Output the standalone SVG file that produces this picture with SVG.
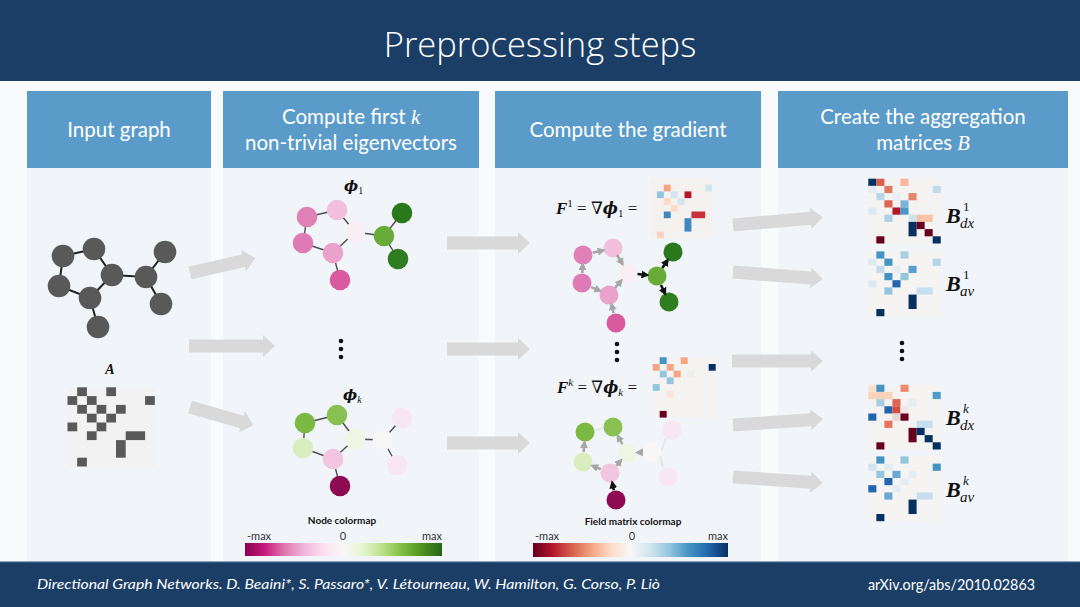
<svg xmlns="http://www.w3.org/2000/svg" width="1080" height="607" viewBox="0 0 1080 607">
<defs>
<style>
.hdr{fill:#5b9bc9}
.hdrt{font-family:Lato,"Open Sans",sans-serif;font-size:20.5px;fill:#ffffff;text-anchor:middle}
.panel{fill:#f1f5f9}
.flow{fill:#d9d9d9}
.gn{fill:#595959}
.ge{stroke:#222;stroke-width:2;fill:none}
.pe{stroke:#4d4d4d;stroke-width:1.4;fill:none}
.math{font-family:"Liberation Serif","DejaVu Serif",serif;fill:#111}
.phi{font-family:"DejaVu Serif",serif;font-weight:bold;font-style:italic}
.bi{font-weight:bold;font-style:italic}
.it{font-style:italic}
.cb{font-family:Lato,"Open Sans",sans-serif;font-size:10px;font-weight:bold;fill:#111;text-anchor:middle}
.tick{font-family:Lato,"Open Sans",sans-serif;font-size:11px;fill:#333}
.ga{stroke:#a6a6a6;stroke-width:2.6;fill:none;marker-end:url(#mg)}
.ka{stroke:#111;stroke-width:2.6;fill:none;marker-end:url(#mk)}
.fa{stroke:#e6e6e6;stroke-width:2;fill:none}
.dot{fill:#111}
.foot{font-family:Lato,"Open Sans",sans-serif;fill:#ffffff}
</style>
<marker id="mg" viewBox="0 0 10 10" refX="7" refY="5" markerUnits="userSpaceOnUse" markerWidth="8" markerHeight="8" orient="auto"><path d="M0,0 L10,5 L0,10 z" fill="#a6a6a6"/></marker>
<marker id="mk" viewBox="0 0 10 10" refX="7" refY="5" markerUnits="userSpaceOnUse" markerWidth="8" markerHeight="8" orient="auto"><path d="M0,0 L10,5 L0,10 z" fill="#111"/></marker>
<linearGradient id="piyg" x1="0" y1="0" x2="1" y2="0">
<stop offset="0" stop-color="#8e0152"/><stop offset="0.1" stop-color="#c51b7d"/><stop offset="0.2" stop-color="#de77ae"/><stop offset="0.3" stop-color="#f1b6da"/><stop offset="0.4" stop-color="#fde0ef"/><stop offset="0.5" stop-color="#f7f7f7"/><stop offset="0.6" stop-color="#e6f5d0"/><stop offset="0.7" stop-color="#b8e186"/><stop offset="0.8" stop-color="#7fbc41"/><stop offset="0.9" stop-color="#4d9221"/><stop offset="1" stop-color="#276419"/>
</linearGradient>
<linearGradient id="rdbu" x1="0" y1="0" x2="1" y2="0">
<stop offset="0" stop-color="#67001f"/><stop offset="0.1" stop-color="#b2182b"/><stop offset="0.2" stop-color="#d6604d"/><stop offset="0.3" stop-color="#f4a582"/><stop offset="0.4" stop-color="#fddbc7"/><stop offset="0.5" stop-color="#f7f7f7"/><stop offset="0.6" stop-color="#d1e5f0"/><stop offset="0.7" stop-color="#92c5de"/><stop offset="0.8" stop-color="#4393c3"/><stop offset="0.9" stop-color="#2166ac"/><stop offset="1" stop-color="#053061"/>
</linearGradient>
</defs>

<!-- background -->
<rect x="0" y="0" width="1080" height="607" fill="#f8fafc"/>
<rect x="0" y="0" width="1080" height="81" fill="#1b3e66"/>
<text x="540" y="57" text-anchor="middle" font-family="'Open Sans',Lato,sans-serif" font-weight="300" font-size="34.5" fill="#ffffff">Preprocessing steps</text>
<rect x="0" y="562" width="1080" height="45" fill="#1b3e66"/>
<rect x="0" y="561" width="1080" height="1.2" fill="#8aa3bf"/>

<!-- column panels -->
<rect class="panel" x="27" y="91" width="184" height="470"/>
<rect class="panel" x="223" y="91" width="256" height="470"/>
<rect class="panel" x="495" y="91" width="266" height="470"/>
<rect class="panel" x="778" y="91" width="290" height="470"/>

<!-- headers -->
<g id="hdr1"><rect class="hdr" x="27" y="91" width="184" height="77"/><text class="hdrt" x="119" y="137">Input graph</text></g>
<g id="hdr2"><rect class="hdr" x="223" y="91" width="256" height="77"/><text class="hdrt" x="351" y="124">Compute first <tspan font-family="'Liberation Serif',serif" font-style="italic">k</tspan></text><text class="hdrt" x="351" y="150">non-trivial eigenvectors</text></g>
<g id="hdr3"><rect class="hdr" x="495" y="91" width="266" height="77"/><text class="hdrt" x="628" y="137">Compute the gradient</text></g>
<g id="hdr4"><rect class="hdr" x="778" y="91" width="290" height="77"/><text class="hdrt" x="923" y="124">Create the aggregation</text><text class="hdrt" x="923" y="150">matrices <tspan font-family="'Liberation Serif',serif" font-style="italic">B</tspan></text></g>

<!-- big flow arrows -->
<g id="connectors">
<polygon class="flow" transform="translate(190,273) rotate(-13)" points="0,-6.5 55,-6.5 55,-11 67,0 55,11 55,6.5 0,6.5"/>
<polygon class="flow" transform="translate(189,346)" points="0,-6.5 74,-6.5 74,-11 86,0 74,11 74,6.5 0,6.5"/>
<polygon class="flow" transform="translate(190,407) rotate(16)" points="0,-6.5 54,-6.5 54,-11 66,0 54,11 54,6.5 0,6.5"/>
<polygon class="flow" transform="translate(447,243)" points="0,-6.5 71,-6.5 71,-11 83,0 71,11 71,6.5 0,6.5"/>
<polygon class="flow" transform="translate(447,349)" points="0,-6.5 71,-6.5 71,-11 83,0 71,11 71,6.5 0,6.5"/>
<polygon class="flow" transform="translate(447,443)" points="0,-6.5 71,-6.5 71,-11 83,0 71,11 71,6.5 0,6.5"/>
<polygon class="flow" transform="translate(733,225) rotate(-5)" points="0,-6.5 78,-6.5 78,-10.5 90,0 78,10.5 78,6.5 0,6.5"/>
<polygon class="flow" transform="translate(733,272) rotate(4.4)" points="0,-6.5 78,-6.5 78,-10.5 90,0 78,10.5 78,6.5 0,6.5"/>
<polygon class="flow" transform="translate(732,361)" points="0,-6.5 79,-6.5 79,-10.5 91,0 79,10.5 79,6.5 0,6.5"/>
<polygon class="flow" transform="translate(733,425) rotate(-3.8)" points="0,-6.5 78,-6.5 78,-10.5 90,0 78,10.5 78,6.5 0,6.5"/>
<polygon class="flow" transform="translate(733,477) rotate(3.8)" points="0,-6.5 78,-6.5 78,-10.5 90,0 78,10.5 78,6.5 0,6.5"/>
</g>

<!-- input graph -->
<g id="input-graph">
<path class="ge" d="M63,256 L94,249 M63,256 L59,286 M94,249 L112,275 M59,286 L90,298 M90,298 L112,275 M112,275 L146,277 M146,277 L165,252 M146,277 L161,304 M90,298 L98,327"/>
<circle class="gn" cx="63" cy="256" r="11.3"/>
<circle class="gn" cx="94" cy="249" r="11.3"/>
<circle class="gn" cx="59" cy="286" r="11.3"/>
<circle class="gn" cx="112" cy="275" r="11.3"/>
<circle class="gn" cx="90" cy="298" r="11.3"/>
<circle class="gn" cx="146" cy="277" r="11.3"/>
<circle class="gn" cx="165" cy="252" r="11.3"/>
<circle class="gn" cx="161" cy="304" r="11.3"/>
<circle class="gn" cx="98" cy="327" r="11.3"/>
</g>

<!-- adjacency matrix A -->
<g id="matrix-A">
<text class="math bi" x="110" y="374" font-size="14" text-anchor="middle">A</text>
<g transform="translate(67.5,387.3) scale(9.7,8.8)" fill="#595959">
<rect x="0" y="0" width="9" height="9" fill="#f2f2f2"/>
<rect x="1" y="0" width="1" height="1"/><rect x="4" y="0" width="1" height="1"/>
<rect x="0" y="1" width="1" height="1"/><rect x="2" y="1" width="1" height="1"/><rect x="8" y="1" width="1" height="1"/>
<rect x="1" y="2" width="1" height="1"/><rect x="3" y="2" width="1" height="1"/><rect x="5" y="2" width="1" height="1"/>
<rect x="2" y="3" width="1" height="1"/><rect x="4" y="3" width="1" height="1"/>
<rect x="0" y="4" width="1" height="1"/><rect x="3" y="4" width="1" height="1"/>
<rect x="2" y="5" width="1" height="1"/><rect x="6" y="5" width="2" height="1"/>
<rect x="5" y="6" width="1" height="2"/>
<rect x="1" y="8" width="1" height="1"/>
</g>
</g>

<!-- phi_1 graph -->
<g id="phi1-graph">
<text class="math" x="344" y="191"><tspan class="phi" font-size="15">ϕ</tspan><tspan font-size="10" dy="3">1</tspan></text>
<path class="pe" d="M307,217 L337,210 M307,217 L303,243 M337,210 L355,232 M303,243 L333,253 M333,253 L355,232 M355,232 L384,236 M384,236 L402,213 M384,236 L398,259 M333,253 L340,280"/>
<circle cx="307" cy="217" r="10.3" fill="#df80b6"/>
<circle cx="337" cy="210" r="10.3" fill="#f2bfdc"/>
<circle cx="303" cy="243" r="10.3" fill="#df7bb4"/>
<circle cx="333" cy="253" r="10.3" fill="#eaa2cb"/>
<circle cx="355" cy="232" r="10.3" fill="#f8eef4"/>
<circle cx="384" cy="236" r="10.3" fill="#68ab38"/>
<circle cx="402" cy="213" r="10.3" fill="#2a781c"/>
<circle cx="398" cy="259" r="10.3" fill="#2e7d20"/>
<circle cx="340" cy="280" r="10.3" fill="#da5aa0"/>
</g>

<g id="dots">
<circle class="dot" cx="341" cy="341" r="2.3"/><circle class="dot" cx="341" cy="349" r="2.3"/><circle class="dot" cx="341" cy="357" r="2.3"/>
<circle class="dot" cx="617" cy="344" r="2.3"/><circle class="dot" cx="617" cy="352" r="2.3"/><circle class="dot" cx="617" cy="360" r="2.3"/>
<circle class="dot" cx="902" cy="343" r="2.3"/><circle class="dot" cx="902" cy="351" r="2.3"/><circle class="dot" cx="902" cy="359" r="2.3"/>
</g>

<!-- phi_k graph -->
<g id="phik-graph">
<text class="math" x="343" y="400"><tspan class="phi" font-size="15">ϕ</tspan><tspan class="it" font-size="10" dy="3">k</tspan></text>
<path class="pe" d="M305,423 L337,415 M305,423 L303,448 M337,415 L355,439 M303,448 L333,459 M333,459 L355,439 M355,439 L383,440 M383,440 L402,418 M383,440 L397,465 M333,459 L340,486"/>
<circle cx="305" cy="423" r="10.3" fill="#7bb943"/>
<circle cx="337" cy="415" r="10.3" fill="#88c152"/>
<circle cx="303" cy="448" r="10.3" fill="#d9edbf"/>
<circle cx="333" cy="459" r="10.3" fill="#f2c6df"/>
<circle cx="355" cy="439" r="10.3" fill="#eef6e3"/>
<circle cx="383" cy="440" r="10.3" fill="#f8f5f7"/>
<circle cx="402" cy="418" r="10.3" fill="#f8e7f0"/>
<circle cx="397" cy="465" r="10.3" fill="#f8e7f0"/>
<circle cx="340" cy="486" r="10.3" fill="#8e0a52"/>
</g>

<!-- node colormap -->
<g id="node-colormap">
<text class="cb" x="342" y="524">Node colormap</text>
<text class="tick" x="247" y="540">-max</text>
<text class="tick" x="343" y="540" text-anchor="middle">0</text>
<text class="tick" x="442" y="540" text-anchor="end">max</text>
<rect x="245" y="543" width="197" height="13" fill="url(#piyg)"/>
</g>

<!-- F1 formula and matrix -->
<g id="F1">
<text class="math" font-size="17" x="556" y="214"><tspan class="bi">F</tspan><tspan font-size="11" dy="-7">1</tspan><tspan dy="7"> = ∇</tspan><tspan class="phi" font-size="16">ϕ</tspan><tspan font-size="11" dy="3">1</tspan><tspan dy="-3"> =</tspan></text>
<g transform="translate(650,178) scale(6.9,6.7)">
<rect x="0" y="0" width="9" height="9" fill="#f5f1ee"/>
<rect x="2" y="1" width="1" height="1" fill="#f4a582"/><rect x="8" y="1" width="1" height="1" fill="#d1e5f0"/>
<rect x="1" y="2" width="1" height="1" fill="#92c5de"/><rect x="3" y="2" width="1" height="1" fill="#d1e5f0"/><rect x="5" y="2" width="1" height="1" fill="#b2182b"/>
<rect x="2" y="3" width="1" height="1" fill="#fddbc7"/><rect x="4" y="3" width="1" height="1" fill="#d1e5f0"/>
<rect x="3" y="4" width="1" height="1" fill="#fddbc7"/>
<rect x="2" y="5" width="1" height="1" fill="#3f87c0"/><rect x="6" y="5" width="2" height="1" fill="#c8313c"/>
<rect x="5" y="6" width="1" height="2" fill="#3f87c0"/>
<rect x="1" y="8" width="1" height="1" fill="#fbd3bd"/>
</g>
</g>

<!-- F1 gradient graph -->
<g id="F1-graph">
<circle cx="583" cy="255" r="9.5" fill="#df80b6"/>
<circle cx="613" cy="248" r="9.5" fill="#f2bfdc"/>
<circle cx="582" cy="283" r="9.5" fill="#df7bb4"/>
<circle cx="609" cy="295" r="9.5" fill="#eaa2cb"/>
<circle cx="628" cy="273" r="9.5" fill="#f8eef4"/>
<circle cx="657" cy="276" r="9.5" fill="#68ab38"/>
<circle cx="673" cy="252" r="9.5" fill="#2a781c"/>
<circle cx="669" cy="302" r="9.5" fill="#2e7d20"/>
<circle cx="616" cy="323" r="9.5" fill="#da5aa0"/>
<path class="ga" d="M592.7,252.7 L603.3,250.3"/>
<path class="ga" d="M617.1,255 L622.5,264"/>
<path class="ga" d="M582.4,273 L582.7,264.5"/>
<path class="ga" d="M591.2,287.1 L600,290.9"/>
<path class="ga" d="M615,288 L621.3,280.6"/>
<path class="ga" d="M613.6,313.3 L611.5,304.5"/>
<path class="ka" d="M637.5,274 L647,275"/>
<path class="ka" d="M662.3,268 L667.5,260.3"/>
<path class="ka" d="M661,285 L665,293.5"/>
</g>

<!-- Fk formula and matrix -->
<g id="Fk">
<text class="math" font-size="17" x="557" y="393"><tspan class="bi">F</tspan><tspan class="it" font-size="11" dy="-7">k</tspan><tspan dy="7"> = ∇</tspan><tspan class="phi" font-size="16">ϕ</tspan><tspan class="it" font-size="11" dy="3">k</tspan><tspan dy="-3"> =</tspan></text>
<g transform="translate(652.7,357.3) scale(7,6.7)">
<rect x="0" y="0" width="9" height="9" fill="#f5f3f2"/>
<rect x="1" y="0" width="1" height="1" fill="#4393c3"/><rect x="4" y="0" width="1" height="1" fill="#f4a582"/>
<rect x="0" y="1" width="1" height="1" fill="#f4a582"/><rect x="2" y="1" width="1" height="1" fill="#f4a582"/><rect x="8" y="1" width="1" height="1" fill="#053061"/>
<rect x="1" y="2" width="1" height="1" fill="#92c5de"/><rect x="3" y="2" width="1" height="1" fill="#f4a582"/><rect x="5" y="2" width="1" height="1" fill="#e9efea"/>
<rect x="2" y="3" width="1" height="1" fill="#92c5de"/>
<rect x="0" y="4" width="1" height="1" fill="#92c5de"/>
<rect x="2" y="5" width="1" height="1" fill="#fbe5d9"/>
<rect x="1" y="8" width="1" height="1" fill="#67001f"/>
</g>
</g>

<!-- Fk gradient graph -->
<g id="Fk-graph">
<path class="fa" d="M595,430 L603,428 M661,452 L666,438 M660,455 L663,468"/>
<circle cx="585" cy="432" r="9.5" fill="#7bb943"/>
<circle cx="613" cy="427" r="9.5" fill="#88c152"/>
<circle cx="583" cy="462" r="9.5" fill="#d9edbf"/>
<circle cx="610" cy="473" r="9.5" fill="#f2c6df"/>
<circle cx="627" cy="453" r="9.5" fill="#eef6e3"/>
<circle cx="652" cy="452" r="9.5" fill="#f8f6f7"/>
<circle cx="672" cy="430" r="9.5" fill="#f8e7f0"/>
<circle cx="668" cy="477" r="9.5" fill="#f8e7f0"/>
<circle cx="616" cy="500" r="9.5" fill="#8e0a52"/>
<path class="ga" d="M583.7,452 L584.4,442.5"/>
<path class="ga" d="M600.8,469.2 L592.5,465.8"/>
<path class="ga" d="M616.3,465.6 L621,460.3"/>
<path class="ga" d="M622.3,444.2 L617.8,436"/>
<path class="ga" d="M642,452.4 L637.5,452.6" stroke="#dedede"/>
<path class="ka" d="M613.8,490.2 L612.2,482.7"/>
</g>

<!-- field colormap -->
<g id="field-colormap">
<text class="cb" x="633" y="525">Field matrix colormap</text>
<text class="tick" x="535" y="540">-max</text>
<text class="tick" x="632" y="540" text-anchor="middle">0</text>
<text class="tick" x="728" y="540" text-anchor="end">max</text>
<rect x="533" y="543" width="195" height="14" fill="url(#rdbu)"/>
</g>

<!-- B1dx -->
<g id="B1dx">
<g transform="translate(868.3,178.7) scale(8.05,7.2)">
<rect x="0" y="0" width="9" height="9" fill="#f5f3f2"/>
<rect x="0" y="0" width="1" height="1" fill="#053061"/><rect x="1" y="0" width="1" height="1" fill="#d6604d"/><rect x="4" y="0" width="1" height="1" fill="#f7b799"/>
<rect x="0" y="1" width="1" height="1" fill="#e2ecf4"/><rect x="2" y="1" width="1" height="1" fill="#e07a62"/><rect x="8" y="1" width="1" height="1" fill="#c0dbeb"/>
<rect x="1" y="2" width="1" height="1" fill="#b7d6e9"/><rect x="3" y="2" width="1" height="1" fill="#e8eef3"/><rect x="5" y="2" width="1" height="1" fill="#e6866a"/>
<rect x="2" y="3" width="1" height="1" fill="#de6450"/><rect x="4" y="3" width="1" height="1" fill="#7fb4d8"/>
<rect x="0" y="4" width="1" height="1" fill="#dbe8f1"/><rect x="3" y="4" width="1" height="1" fill="#b2182b"/><rect x="4" y="4" width="1" height="1" fill="#4a98c8"/>
<rect x="2" y="5" width="1" height="1" fill="#acd0e6"/><rect x="5" y="5" width="1" height="1" fill="#cfe3ef"/><rect x="6" y="5" width="2" height="1" fill="#f7c3a8"/>
<rect x="5" y="6" width="1" height="2" fill="#053061"/><rect x="6" y="6" width="1" height="1" fill="#67001f"/><rect x="7" y="7" width="1" height="1" fill="#67001f"/>
<rect x="1" y="8" width="1" height="1" fill="#67001f"/><rect x="8" y="8" width="1" height="1" fill="#053061"/>
</g>
<text class="math bi" x="946" y="223" font-size="22">B</text>
<text class="math" x="963" y="211" font-size="13">1</text>
<text class="math it" x="960" y="228" font-size="15">dx</text>
</g>

<!-- B1av -->
<g id="B1av">
<g transform="translate(868.3,251.4) scale(8.05,7.2)">
<rect x="0" y="0" width="9" height="9" fill="#f5f4f3"/>
<rect x="1" y="0" width="1" height="1" fill="#4393c3"/><rect x="4" y="0" width="1" height="1" fill="#a9cfe5"/>
<rect x="0" y="1" width="1" height="1" fill="#dde9f2"/><rect x="2" y="1" width="1" height="1" fill="#4393c3"/><rect x="8" y="1" width="1" height="1" fill="#b5d4e9"/>
<rect x="1" y="2" width="1" height="1" fill="#c3dcec"/><rect x="3" y="2" width="1" height="1" fill="#e4edf4"/><rect x="5" y="2" width="1" height="1" fill="#5aa0cd"/>
<rect x="2" y="3" width="1" height="1" fill="#4393c3"/><rect x="4" y="3" width="1" height="1" fill="#92c5de"/>
<rect x="0" y="4" width="1" height="1" fill="#dde9f2"/><rect x="3" y="4" width="1" height="1" fill="#2166ac"/>
<rect x="2" y="5" width="1" height="1" fill="#92c5de"/><rect x="6" y="5" width="2" height="1" fill="#c6dff0"/>
<rect x="5" y="6" width="1" height="2" fill="#053061"/>
<rect x="1" y="8" width="1" height="1" fill="#053061"/>
</g>
<text class="math bi" x="946" y="291" font-size="22">B</text>
<text class="math" x="963" y="279" font-size="13">1</text>
<text class="math it" x="960" y="296" font-size="15">av</text>
</g>

<!-- Bkdx -->
<g id="Bkdx">
<g transform="translate(868.3,384.7) scale(8.05,7.2)">
<rect x="0" y="0" width="9" height="9" fill="#f5f3f2"/>
<rect x="0" y="0" width="1" height="1" fill="#fbe0d0"/><rect x="1" y="0" width="1" height="1" fill="#4393c3"/><rect x="4" y="0" width="1" height="1" fill="#ef8a6e"/>
<rect x="0" y="1" width="3" height="1" fill="#fbd3bd"/><rect x="8" y="1" width="1" height="1" fill="#4f9bc9"/>
<rect x="1" y="2" width="1" height="1" fill="#a6cde3"/><rect x="3" y="2" width="1" height="1" fill="#e0644f"/><rect x="5" y="2" width="1" height="1" fill="#e6eef4"/>
<rect x="2" y="3" width="1" height="1" fill="#2166ac"/><rect x="3" y="3" width="1" height="1" fill="#d24d40"/><rect x="4" y="3" width="1" height="1" fill="#f3e6e6"/>
<rect x="0" y="4" width="1" height="1" fill="#2166ac"/><rect x="3" y="4" width="1" height="1" fill="#ead7d3"/><rect x="4" y="4" width="1" height="1" fill="#67001f"/>
<rect x="2" y="5" width="1" height="1" fill="#e8735a"/><rect x="6" y="5" width="2" height="1" fill="#c6dff0"/>
<rect x="5" y="6" width="1" height="2" fill="#67001f"/><rect x="6" y="6" width="1" height="1" fill="#053061"/><rect x="7" y="7" width="1" height="1" fill="#053061"/>
<rect x="1" y="8" width="1" height="1" fill="#67001f"/><rect x="8" y="8" width="1" height="1" fill="#053061"/>
</g>
<text class="math bi" x="946" y="425" font-size="22">B</text>
<text class="math it" x="963" y="413" font-size="13">k</text>
<text class="math it" x="960" y="430" font-size="15">dx</text>
</g>

<!-- Bkav -->
<g id="Bkav">
<g transform="translate(868.3,456.4) scale(8.05,7.2)">
<rect x="0" y="0" width="9" height="9" fill="#f5f4f3"/>
<rect x="1" y="0" width="1" height="1" fill="#4393c3"/><rect x="4" y="0" width="1" height="1" fill="#92c5de"/>
<rect x="0" y="1" width="1" height="1" fill="#d1e5f0"/><rect x="2" y="1" width="1" height="1" fill="#e0ecf4"/><rect x="8" y="1" width="1" height="1" fill="#4393c3"/>
<rect x="1" y="2" width="1" height="1" fill="#92c5de"/><rect x="3" y="2" width="1" height="1" fill="#6aa9d2"/><rect x="5" y="2" width="1" height="1" fill="#e4edf4"/>
<rect x="2" y="3" width="1" height="1" fill="#2166ac"/><rect x="4" y="3" width="1" height="1" fill="#e4edf4"/>
<rect x="0" y="4" width="1" height="1" fill="#2166ac"/><rect x="3" y="4" width="1" height="1" fill="#e4edf4"/>
<rect x="2" y="5" width="1" height="1" fill="#6aa9d2"/><rect x="6" y="5" width="2" height="1" fill="#c6dff0"/>
<rect x="5" y="6" width="1" height="2" fill="#053061"/>
<rect x="1" y="8" width="1" height="1" fill="#053061"/>
</g>
<text class="math bi" x="946" y="497" font-size="22">B</text>
<text class="math it" x="963" y="485" font-size="13">k</text>
<text class="math it" x="960" y="502" font-size="15">av</text>
</g>

<!-- footer -->
<text class="foot" x="37" y="589" font-size="14" font-style="italic" textLength="623" lengthAdjust="spacingAndGlyphs">Directional Graph Networks. D. Beaini*, S. Passaro*, V. Létourneau, W. Hamilton, G. Corso, P. Liò</text>
<text class="foot" x="868" y="590" font-size="15" textLength="167" lengthAdjust="spacingAndGlyphs">arXiv.org/abs/2010.02863</text>
</svg>
